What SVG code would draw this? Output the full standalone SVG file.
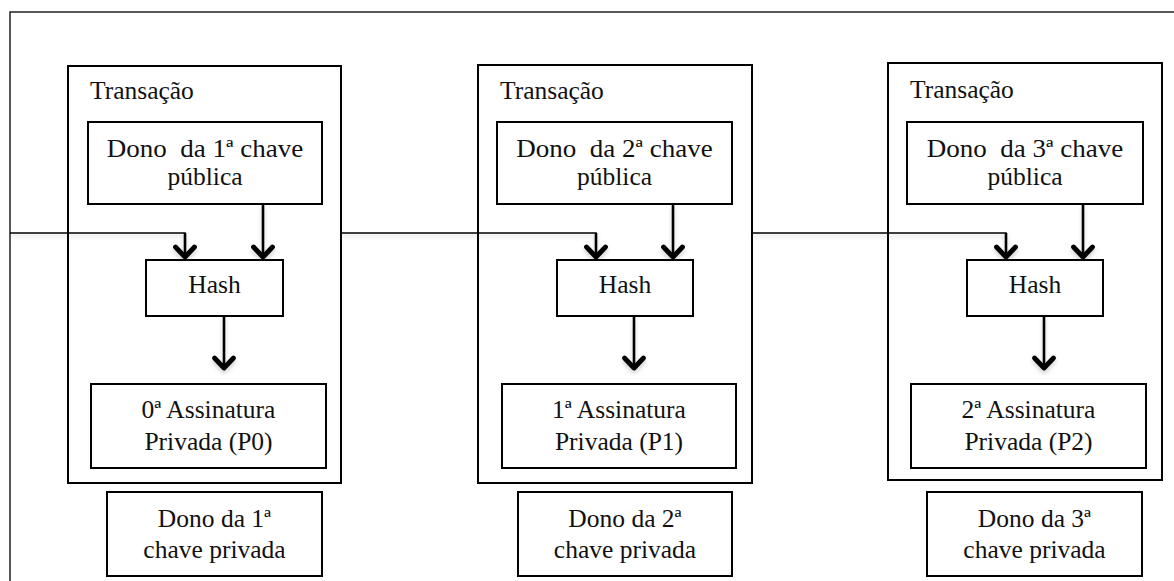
<svg xmlns="http://www.w3.org/2000/svg" width="1174" height="581" viewBox="0 0 1174 581">
<style>
.frame{fill:none;stroke:#222;stroke-width:1.5}
.tx{fill:#fff;stroke:#000;stroke-width:2}
.box{fill:#fff;stroke:#000;stroke-width:2}
.t{font-family:"Liberation Serif","Times New Roman",serif;font-size:25.5px;fill:#111}
.c{text-anchor:middle}
.link{fill:none;stroke:#000;stroke-width:1.6}
.arr{fill:none;stroke:#000;stroke-width:2.6;marker-end:url(#chev)}
</style>
<defs>
<marker id="chev" markerUnits="userSpaceOnUse" orient="auto" refX="0" refY="0" markerWidth="30" markerHeight="30" viewBox="-15 -15 30 30" overflow="visible">
<path d="M-10,-9.5 L0,0 L-10,9.5" fill="none" stroke="#000" stroke-width="4.8" stroke-linecap="round" stroke-linejoin="round"/>
</marker>
<filter id="sh" x="-50%" y="-50%" width="200%" height="200%">
<feDropShadow dx="0" dy="3" stdDeviation="2" flood-color="#000" flood-opacity="0.18"/>
</filter>
</defs>

<g id="frame">
<path class="frame" d="M10,581 V12 H1174"/>
</g>

<g id="tx1">
<rect class="tx" x="68" y="66" width="273" height="417"/>
<text class="t" x="90" y="99">Transação</text>
</g>
<g id="tx2">
<rect class="tx" x="478" y="65" width="274" height="418"/>
<text class="t" x="500" y="99">Transação</text>
</g>
<g id="tx3">
<rect class="tx" x="888" y="63" width="274" height="417"/>
<text class="t" x="910" y="98">Transação</text>
</g>

<g id="connectors" filter="url(#sh)">
<path class="link" d="M10,233 H185 V236"/>
<path class="arr" d="M185,233 V257"/>
<path class="arr" d="M263,204 V257"/>
<path class="arr" d="M224,316 V368"/>
<path class="link" d="M341,233 H596 V236"/>
<path class="arr" d="M596,233 V257"/>
<path class="arr" d="M673,204 V257"/>
<path class="arr" d="M634,316 V368"/>
<path class="link" d="M752,233 H1006 V236"/>
<path class="arr" d="M1006,233 V257"/>
<path class="arr" d="M1083,204 V257"/>
<path class="arr" d="M1044,316 V368"/>
</g>

<g id="pub1">
<rect class="box" x="88" y="122" width="234" height="82"/>
<text class="t c" xml:space="preserve" transform="translate(205,157) scale(1.06,1)">Dono  da 1ª chave</text>
<text class="t c" x="205" y="185">pública</text>
</g>
<g id="hash1">
<rect class="box" x="146" y="260" width="137" height="56"/>
<text class="t c" x="214.5" y="293">Hash</text>
</g>
<g id="sig1">
<rect class="box" x="91" y="384" width="235" height="84"/>
<text class="t c" x="208.5" y="418">0ª Assinatura</text>
<text class="t c" x="208.5" y="450">Privada (P0)</text>
</g>
<g id="priv1">
<rect class="box" x="107" y="492" width="215" height="84"/>
<text class="t c" x="214.5" y="527">Dono da 1ª</text>
<text class="t c" x="214.5" y="558">chave privada</text>
</g>

<g id="pub2">
<rect class="box" x="497" y="122" width="235" height="82"/>
<text class="t c" xml:space="preserve" transform="translate(614.5,157) scale(1.06,1)">Dono  da 2ª chave</text>
<text class="t c" x="614.5" y="185">pública</text>
</g>
<g id="hash2">
<rect class="box" x="557" y="260" width="136" height="56"/>
<text class="t c" x="625" y="293">Hash</text>
</g>
<g id="sig2">
<rect class="box" x="502" y="384" width="234" height="84"/>
<text class="t c" x="619" y="418">1ª Assinatura</text>
<text class="t c" x="619" y="450">Privada (P1)</text>
</g>
<g id="priv2">
<rect class="box" x="518" y="492" width="214" height="84"/>
<text class="t c" x="625" y="527">Dono da 2ª</text>
<text class="t c" x="625" y="558">chave privada</text>
</g>

<g id="pub3">
<rect class="box" x="907" y="122" width="236" height="82"/>
<text class="t c" xml:space="preserve" transform="translate(1025,157) scale(1.06,1)">Dono  da 3ª chave</text>
<text class="t c" x="1025" y="185">pública</text>
</g>
<g id="hash3">
<rect class="box" x="967" y="260" width="136" height="56"/>
<text class="t c" x="1035" y="293">Hash</text>
</g>
<g id="sig3">
<rect class="box" x="911" y="384" width="235" height="84"/>
<text class="t c" x="1028.5" y="418">2ª Assinatura</text>
<text class="t c" x="1028.5" y="450">Privada (P2)</text>
</g>
<g id="priv3">
<rect class="box" x="927" y="492" width="215" height="84"/>
<text class="t c" x="1034.5" y="527">Dono da 3ª</text>
<text class="t c" x="1034.5" y="558">chave privada</text>
</g>
</svg>
